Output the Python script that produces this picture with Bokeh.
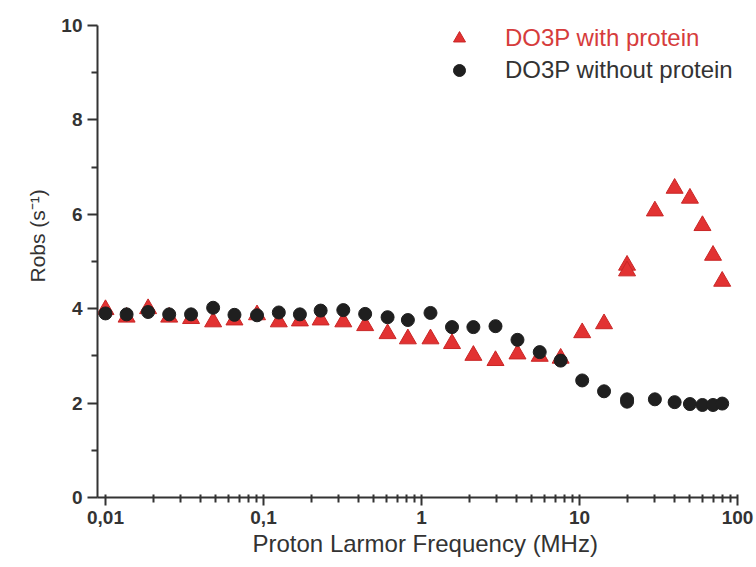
from bokeh.plotting import figure
from bokeh.models import Range1d, FixedTicker, Legend, LegendItem, Title
from bokeh.embed import file_html
from bokeh.resources import INLINE

# ---- data ----
freq_mhz = [0.01, 0.0136, 0.0186, 0.0253, 0.0348, 0.048, 0.0655, 0.091, 0.125, 0.17,
            0.23, 0.32, 0.44, 0.61, 0.82, 1.14, 1.56, 2.13, 2.94, 4.05,
            5.6, 7.6, 10.4, 14.3, 20, 20, 30, 40, 50, 60, 70, 80]
r_with_protein = [3.98, 3.82, 4.00, 3.82, 3.79, 3.72, 3.76, 3.87, 3.72, 3.74,
                  3.76, 3.72, 3.64, 3.47, 3.36, 3.36, 3.26, 3.01, 2.90, 3.04,
                  2.99, 2.95, 3.49, 3.68, 4.92, 4.80, 6.07, 6.55, 6.34, 5.76, 5.13, 4.58]
r_without_protein = [3.90, 3.88, 3.93, 3.88, 3.88, 4.02, 3.87, 3.86, 3.92, 3.88,
                     3.96, 3.97, 3.89, 3.82, 3.76, 3.91, 3.61, 3.61, 3.63, 3.34,
                     3.08, 2.90, 2.48, 2.25, 2.08, 2.03, 2.08, 2.02, 1.98, 1.96, 1.96, 1.99]
x_major = [0.01, 0.1, 1, 10, 100]
x_major_labels = ["0,01", "0,1", "1", "10", "100"]
y_major = [0, 2, 4, 6, 8, 10]
y_minor = [1, 3, 5, 7, 9]
legend_labels = ["DO3P with protein", "DO3P without protein"]
x_title = "Proton Larmor Frequency (MHz)"
y_title = "Robs (s\u207b\u00b9)"

FONT = "Liberation Sans"
AX = "#333333"
RED = "#e23232"
BLK = "#1f1f1f"

p = figure(width=756, height=567, x_axis_type="log", title=None,
           x_range=Range1d(0.0089, 100), y_range=Range1d(0, 10),
           output_backend="svg", toolbar_location=None,
           min_border_left=97, min_border_right=19,
           min_border_top=25, min_border_bottom=70)
p.outline_line_color = None
p.grid.visible = False

red_r = p.scatter(freq_mhz, r_with_protein, marker="triangle", size=17,
                  fill_color=RED, line_color="#c92626", line_width=1)
blk_r = p.scatter(freq_mhz, r_without_protein, marker="circle", size=13,
                  fill_color=BLK, line_color=BLK)

minor = [k * 10.0 ** d for d in range(-2, 2) for k in range(2, 10)]
p.xaxis.ticker = FixedTicker(ticks=x_major, minor_ticks=minor)
p.xaxis.major_label_overrides = dict(zip(x_major, x_major_labels))
p.yaxis.ticker = FixedTicker(ticks=y_major, minor_ticks=y_minor)

for ax in (p.xaxis, p.yaxis):
    ax.axis_line_color = AX
    ax.axis_line_width = 2
    ax.major_tick_line_color = AX
    ax.major_tick_line_width = 2
    ax.minor_tick_line_color = AX
    ax.minor_tick_line_width = 2
    ax.major_label_text_font = FONT
    ax.major_label_text_font_style = "bold"
    ax.major_label_text_font_size = "19px"
    ax.major_label_text_color = AX

p.xaxis.major_tick_in = 3
p.xaxis.major_tick_out = 8
p.xaxis.minor_tick_in = 3
p.xaxis.minor_tick_out = 5
p.xaxis.major_label_standoff = 5
p.yaxis.major_tick_in = 0
p.yaxis.major_tick_out = 10
p.yaxis.minor_tick_in = 0
p.yaxis.minor_tick_out = 6
p.yaxis.major_label_standoff = 5

# axis titles as Title objects, left-aligned with an offset so they sit where the reference has them
p.add_layout(Title(text=x_title, align="left", offset=155, standoff=6,
                   vertical_align="top",
                   text_font=FONT, text_font_size="24px", text_font_style="normal",
                   text_color=AX), "below")
p.add_layout(Title(text=y_title, align="left", offset=215, standoff=20,
                   text_font=FONT, text_font_size="21px", text_font_style="normal",
                   text_color=AX), "left")

for lab, rend, col, vy in [(legend_labels[0], red_r, "#d63c3c", 444),
                           (legend_labels[1], blk_r, AX, 412)]:
    lg = Legend(items=[LegendItem(label=lab, renderers=[rend])], location=(347, vy),
                glyph_width=30, glyph_height=30, label_height=30, label_standoff=31,
                padding=0, margin=0, spacing=0, border_line_color=None,
                background_fill_alpha=0, label_text_font=FONT,
                label_text_font_size="24px", label_text_color=col)
    p.add_layout(lg)

open("out.html", "w").write(file_html(p, INLINE))
